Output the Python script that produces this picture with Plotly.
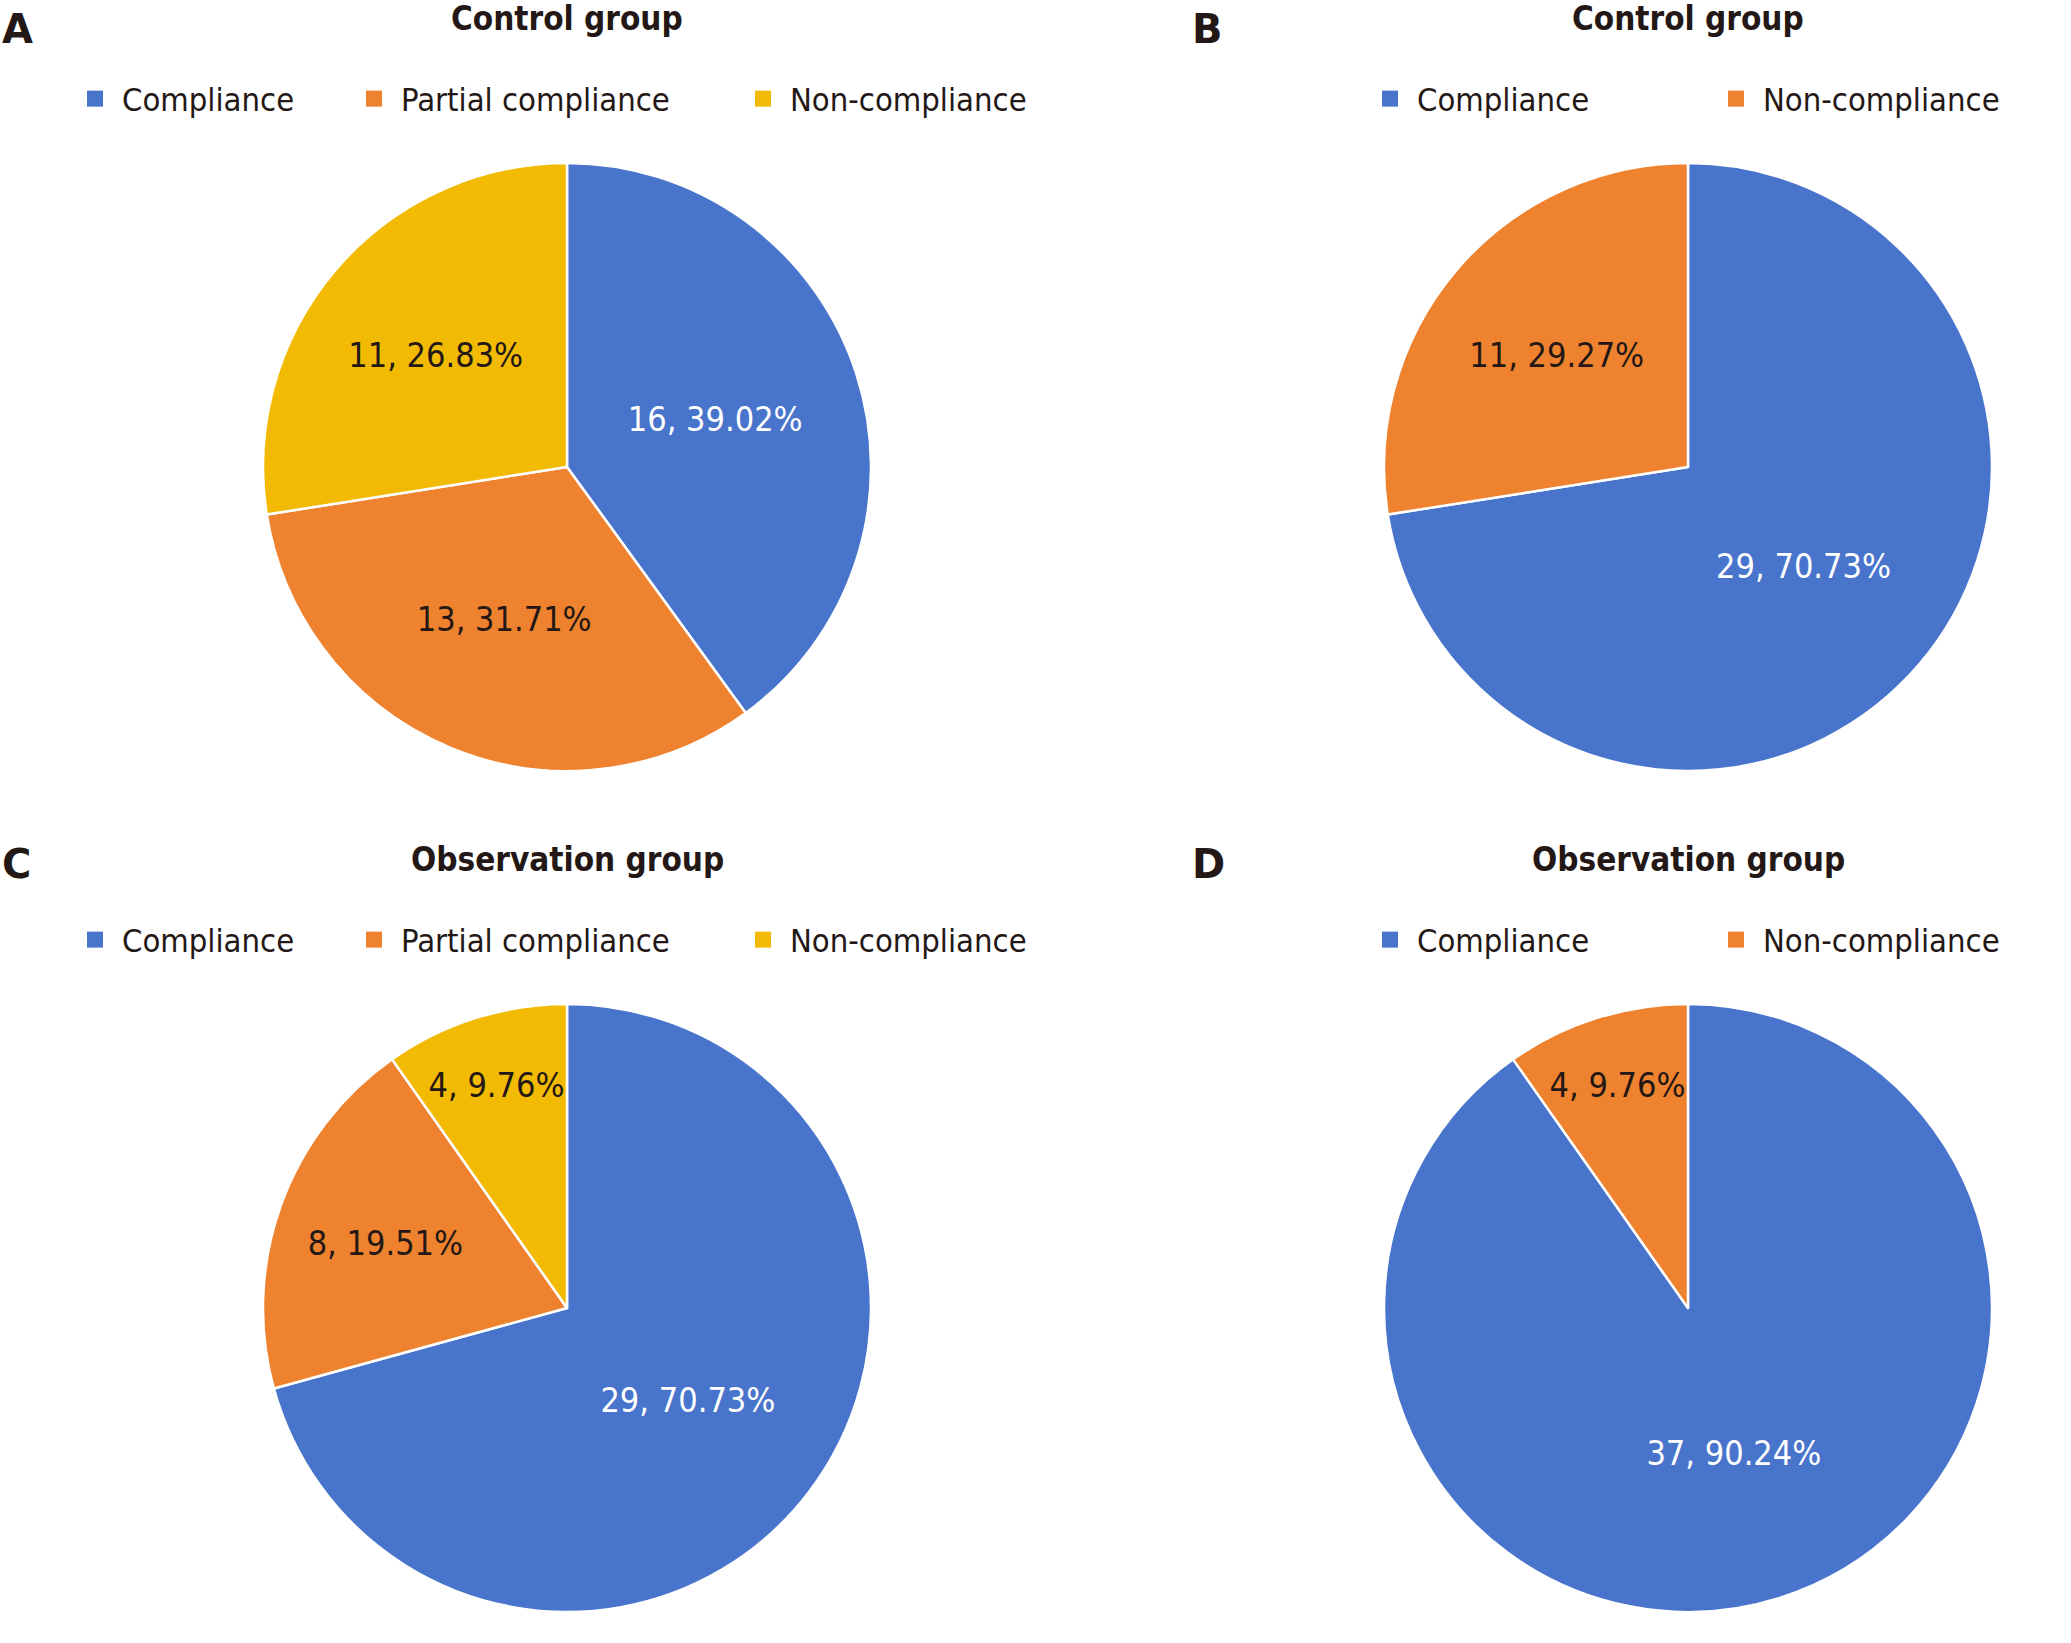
import plotly.graph_objects as go

# ---------------- data ----------------
labels3 = ["Compliance", "Partial compliance", "Non-compliance"]
labels2 = ["Compliance", "Non-compliance"]

a_values = [16, 13, 11]
a_pct = [39.02, 31.71, 26.83]

b_values = [29, 11]
b_pct = [70.73, 29.27]

c_values = [29, 8, 4]
c_pct = [70.73, 19.51, 9.76]

d_values = [37, 4]
d_pct = [90.24, 9.76]

panel_titles = ["Control group", "Control group", "Observation group", "Observation group"]
panel_letters = ["A", "B", "C", "D"]

# ---------------- styling / layout ----------------
W, H = 2071, 1643
colors3 = ["#4874CB", "#EE822F", "#F2BA02"]
colors2 = ["#4874CB", "#EE822F"]
TXT = "#231815"
FONT = "DejaVu Sans Condensed, DejaVu Sans, sans-serif"

centers_x = [567, 1688]
centers_y = [467, 1308]
R = 304

# legend item left edges (px) for 3-item and 2-item legends, and row centres
legend_items_x3 = [68, 347, 736]
legend_items_x2 = [1363, 1709]
legend_rows = [99, 940]


def dom(cx, cy):
    return dict(x=[(cx - R) / W, (cx + R) / W],
                y=[1 - (cy + R) / H, 1 - (cy - R) / H])


panels = [
    (labels3, a_values, a_pct, colors3, centers_x[0], centers_y[0], legend_items_x3, legend_rows[0]),
    (labels2, b_values, b_pct, colors2, centers_x[1], centers_y[0], legend_items_x2, legend_rows[0]),
    (labels3, c_values, c_pct, colors3, centers_x[0], centers_y[1], legend_items_x3, legend_rows[1]),
    (labels2, d_values, d_pct, colors2, centers_x[1], centers_y[1], legend_items_x2, legend_rows[1]),
]

fig = go.Figure()
legends = {}
lg_n = 0
for labs, vals, pct, cols, cx, cy, lx, ly in panels:
    txtcols = ["white"] + [TXT] * (len(labs) - 1)
    fig.add_trace(go.Pie(
        labels=labs, values=vals, customdata=pct,
        texttemplate="%{value}, %{customdata:.2f}%",
        textposition="inside", insidetextorientation="horizontal",
        insidetextfont=dict(family=FONT, size=34, color=txtcols),
        marker=dict(colors=cols, line=dict(color="white", width=2.5)),
        sort=False, direction="clockwise", rotation=0,
        domain=dom(cx, cy), showlegend=False, hoverinfo="label+value",
    ))
    # legend entries (one legend per entry so each can be placed like the original)
    for lab, col, x in zip(labs, cols, lx):
        lg_n += 1
        lid = "legend" if lg_n == 1 else "legend%d" % lg_n
        fig.add_trace(go.Scatter(
            x=[None], y=[None], mode="markers", name=lab,
            marker=dict(symbol="square", size=16, color=col),
            legend=lid, showlegend=True, hoverinfo="skip",
        ))
        legends[lid] = dict(
            x=x / W, y=1 - ly / H, xanchor="left", yanchor="middle",
            orientation="h", bgcolor="rgba(0,0,0,0)", itemwidth=44,
            font=dict(family=FONT, size=32.5, color=TXT),
        )

fig.update_layout(**legends)

annotations = []
title_y = [18, 859]
for i, t in enumerate(panel_titles):
    cx = centers_x[i % 2]
    ty = title_y[i // 2]
    annotations.append(dict(text="<b>%s</b>" % t, x=cx / W, y=1 - ty / H,
                            xref="paper", yref="paper", xanchor="center", yanchor="middle",
                            showarrow=False, font=dict(family=FONT, size=33, color=TXT)))
letter_x = [0, 1190]
letter_y = [29, 864]
for i, L in enumerate(panel_letters):
    annotations.append(dict(text="<b>%s</b>" % L, x=letter_x[i % 2] / W, y=1 - letter_y[i // 2] / H,
                            xref="paper", yref="paper", xanchor="left", yanchor="middle",
                            showarrow=False,
                            font=dict(family="DejaVu Sans, sans-serif", size=40, color=TXT)))

fig.update_layout(
    width=W, height=H, margin=dict(l=0, r=0, t=0, b=0),
    paper_bgcolor="white", plot_bgcolor="white",
    annotations=annotations, showlegend=True,
    uniformtext=dict(minsize=34, mode="show"),
    xaxis=dict(visible=False), yaxis=dict(visible=False),
)

fig.write_html("out.html", config={"displayModeBar": False},
               post_script="document.body.style.margin='0px';document.body.style.overflow='hidden';")
